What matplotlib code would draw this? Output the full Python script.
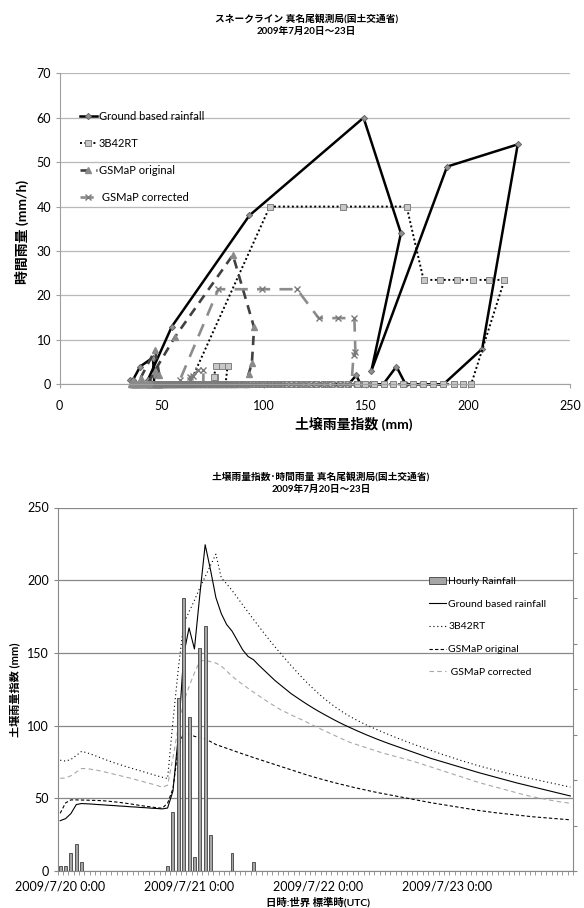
import numpy as np
import matplotlib
matplotlib.use('Agg')
import matplotlib.pyplot as plt

plt.rcParams['font.family'] = ['Lato', 'Noto Sans CJK JP']

# 1時間ごとの土壌雨量指数 (2009/7/20 0:00 から 96時間)
hours = np.arange(96)

swi_ground = [34.6, 36.0, 39.5, 45.7, 46.4, 46.2, 46.0, 45.7, 45.5, 45.2, 45.0, 44.7,
              44.5, 44.2, 44.0, 43.7, 43.5, 43.2, 43.0, 42.7, 43.3, 55.0, 93.0, 148.9,
              167.2, 152.7, 189.8, 224.4, 207.0, 188.0, 177.0, 169.5, 165.0, 158.5, 152.0, 147.5,
              145.3, 141.5, 138.0, 134.5, 131.0, 128.0, 125.0, 122.0, 119.5, 117.0, 114.6, 112.3,
              110.1, 108.0, 106.0, 104.0, 102.1, 100.3, 98.6, 96.9, 95.3, 93.7, 92.2, 90.7,
              89.3, 87.9, 86.6, 85.3, 84.0, 82.7, 81.4, 80.1, 78.8, 77.5, 76.4, 75.3,
              74.2, 73.1, 72.0, 70.9, 69.8, 68.7, 67.6, 66.6, 65.6, 64.6, 63.6, 62.6,
              61.6, 60.6, 59.7, 58.8, 57.9, 57.0, 56.1, 55.2, 54.3, 53.4, 52.5, 51.6]

swi_3b42rt = [76.2, 75.6, 76.7, 79.5, 82.3, 81.3, 80.0, 78.6, 77.2, 75.8, 74.5, 73.3,
              72.1, 71.0, 69.9, 68.8, 67.7, 66.6, 65.5, 64.5, 63.6, 103.0, 139.0, 170.0,
              178.3, 186.1, 194.7, 202.4, 210.2, 217.9, 201.6, 197.5, 193.0, 188.0, 183.0, 178.0,
              173.0, 168.2, 163.4, 158.7, 154.2, 149.8, 145.5, 141.3, 137.2, 133.2, 129.4, 125.8,
              122.4, 119.2, 116.2, 113.4, 110.8, 108.4, 106.2, 104.2, 102.3, 100.5, 98.8, 97.2,
              95.6, 94.1, 92.6, 91.1, 89.7, 88.3, 86.9, 85.6, 84.3, 83.0, 81.7, 80.4,
              79.2, 78.0, 76.8, 75.6, 74.5, 73.4, 72.3, 71.3, 70.3, 69.3, 68.4, 67.5,
              66.6, 65.7, 64.9, 64.1, 63.3, 62.5, 61.7, 60.9, 60.1, 59.3, 58.5, 57.7]

swi_gsmap_org = [39.7, 46.8, 48.9, 48.9, 48.8, 48.7, 48.6, 48.5, 48.3, 48.0, 47.6, 47.2,
                 46.7, 46.2, 45.6, 45.0, 44.5, 44.0, 43.5, 43.2, 46.6, 56.6, 84.9, 95.3,
                 94.2, 92.6, 91.8, 90.8, 89.0, 87.0, 85.7, 84.4, 83.1, 81.8, 80.5, 79.3,
                 78.0, 76.8, 75.6, 74.4, 73.2, 72.0, 70.8, 69.6, 68.4, 67.2, 66.0, 64.9,
                 63.8, 62.8, 61.8, 60.8, 59.9, 59.0, 58.1, 57.2, 56.4, 55.6, 54.8, 54.0,
                 53.3, 52.6, 51.9, 51.2, 50.5, 49.8, 49.1, 48.4, 47.7, 47.0, 46.4, 45.8,
                 45.2, 44.6, 44.0, 43.4, 42.8, 42.2, 41.6, 41.1, 40.6, 40.1, 39.7, 39.3,
                 38.9, 38.5, 38.1, 37.7, 37.3, 37.0, 36.7, 36.4, 36.1, 35.8, 35.5, 35.2]

swi_gsmap_cor = [63.7, 64.0, 65.5, 68.0, 70.5, 70.4, 69.8, 69.2, 68.4, 67.5, 66.6, 65.7,
                 64.8, 63.9, 62.9, 61.9, 60.9, 59.9, 58.9, 57.6, 59.0, 77.8, 99.1, 116.3,
                 126.9, 136.2, 144.4, 144.9, 144.0, 143.0, 141.0, 137.5, 134.0, 131.0, 128.3, 125.6,
                 123.0, 120.5, 118.0, 115.6, 113.3, 111.0, 109.2, 107.4, 105.7, 104.0, 102.2, 100.4,
                 98.6, 96.8, 95.1, 93.4, 91.7, 90.0, 88.4, 87.2, 86.0, 84.8, 83.6, 82.4,
                 81.2, 80.2, 79.2, 78.2, 77.2, 76.2, 75.2, 74.0, 72.8, 71.6, 70.4, 69.2,
                 68.0, 66.8, 65.6, 64.4, 63.2, 62.0, 60.8, 59.8, 58.8, 57.8, 56.8, 55.8,
                 54.8, 53.8, 52.8, 51.9, 51.0, 50.3, 49.6, 48.9, 48.2, 47.6, 47.1, 46.6]

# 時間雨量 (mm/h)：雨のあった時刻と値
rain_ground_h = [0, 1, 2, 3, 4, 20, 21, 22, 23, 24, 25, 26, 27, 28, 32, 36]
rain_ground_v = [1, 1, 4, 6, 2, 1, 13, 38, 60, 34, 3, 49, 54, 8, 4, 2]

rain_3b42rt_h = [0, 1, 2, 3, 4, 21, 22, 23, 24, 25, 26, 27, 28, 29]
rain_3b42rt_v = [1.7, 1.7, 4.1, 4.1, 4.1, 40, 40, 40, 23.5, 23.5, 23.5, 23.5, 23.5, 23.5]

rain_gsmap_org_h = [0, 1, 2, 20, 21, 22, 23, 24, 25]
rain_gsmap_org_v = [1.4, 7.7, 2.1, 3.0, 10.7, 29.1, 12.8, 4.7, 2.3]

rain_gsmap_cor_h = [0, 1, 2, 3, 4, 20, 21, 22, 23, 24, 25, 26, 27, 28]
rain_gsmap_cor_v = [1.0, 1.7, 1.9, 3.2, 3.2, 1.0, 21.4, 21.4, 21.4, 14.9, 14.9, 14.9, 7.3, 6.6]

date_ticks = [0, 24, 48, 72]
date_labels = ['2009/7/20 0:00', '2009/7/21 0:00', '2009/7/22 0:00', '2009/7/23 0:00']


def hourly(h, v):
    r = np.zeros(len(hours))
    r[h] = v
    return r


rain_ground = hourly(rain_ground_h, rain_ground_v)
rain_3b42rt = hourly(rain_3b42rt_h, rain_3b42rt_v)
rain_gsmap_org = hourly(rain_gsmap_org_h, rain_gsmap_org_v)
rain_gsmap_cor = hourly(rain_gsmap_cor_h, rain_gsmap_cor_v)

W, H = 584, 908
fig = plt.figure(figsize=(W / 100, H / 100), dpi=100)
grey = '#888888'

# ---- 上：土壌雨量指数 vs 時間雨量 ----
ax1 = fig.add_axes([59.5 / W, 1 - 384.3 / H, 510.5 / W, 311 / H])
ax1.plot(swi_ground, rain_ground, color='black', lw=1.8, marker='D', ms=3.2,
         mfc='#909090', mec='#606060', mew=0.6, clip_on=False, label='Ground based rainfall')
ax1.plot(swi_3b42rt, rain_3b42rt, color='black', lw=1.4, ls=(0, (1, 1.3)), marker='s', ms=4.5,
         mfc='#c8c8c8', mec='#808080', mew=0.7, clip_on=False, label='3B42RT')
ax1.plot(swi_gsmap_org, rain_gsmap_org, color='#404040', lw=1.9, ls=(0, (3.5, 2.5)), marker='^', ms=4.5,
         mfc='#8a8a8a', mec='#8a8a8a', clip_on=False, label='GSMaP original')
ax1.plot(swi_gsmap_cor, rain_gsmap_cor, color='#8c8c8c', lw=1.9, ls=(0, (5, 3.5)), marker='x', ms=4.5,
         mec='#7a7a7a', mew=1.0, clip_on=False, label=' GSMaP corrected')
ax1.set_xlim(0, 250)
ax1.set_ylim(0, 70)
ax1.set_xticks(range(0, 251, 50))
ax1.set_yticks(range(0, 71, 10))
ax1.grid(axis='y', color='#b8b8b8', lw=0.9)
ax1.set_axisbelow(True)
for s in ['top', 'right']:
    ax1.spines[s].set_visible(False)
for s in ['left', 'bottom']:
    ax1.spines[s].set_color('#a0a0a0')
ax1.tick_params(axis='y', length=3, color='#a0a0a0', labelsize=9, pad=3)
ax1.tick_params(axis='x', length=3, color='#a0a0a0', labelsize=9, pad=8)
ax1.legend(loc='upper left', bbox_to_anchor=(80 / W, 1 - 111 / H), bbox_transform=fig.transFigure,
           frameon=False, fontsize=8, handlelength=1.5, handletextpad=0.2, labelspacing=1.45,
           borderpad=0, borderaxespad=0, numpoints=1)

fig.text(306.7 / W, 1 - 18.3 / H, 'スネークライン 真名尾観測局(国土交通省)', ha='center', va='center',
         fontsize=7, fontweight='bold')
fig.text(306.7 / W, 1 - 31.2 / H, '2009年7月20日～23日', ha='center', va='center',
         fontsize=7, fontweight='bold')
fig.text(22 / W, 1 - 232 / H, '時間雨量 (mm/h)', rotation=90, ha='center', va='center',
         fontsize=10, fontweight='bold')
fig.text(354 / W, 1 - 424 / H, '土壌雨量指数 (mm)', ha='center', va='center',
         fontsize=10, fontweight='bold')

# ---- 下：土壌雨量指数と時間雨量の時系列 ----
ax2 = fig.add_axes([57.5 / W, 1 - 871 / H, 515.5 / W, 363.5 / H])
l1, = ax2.plot(hours, swi_ground, color='black', lw=0.8, label='Ground based rainfall')
l2, = ax2.plot(hours, swi_3b42rt, color='black', lw=0.8, ls=(0, (1, 2.5)), label='3B42RT')
l3, = ax2.plot(hours, swi_gsmap_org, color='black', lw=0.8, ls=(0, (3, 2)), label='GSMaP original')
l4, = ax2.plot(hours, swi_gsmap_cor, color='#a8a8a8', lw=0.8, ls=(0, (4, 3)), label=' GSMaP corrected')
ax2.set_xlim(-0.5, 95.5)
ax2.set_ylim(0, 250)
ax2.set_yticks(range(0, 251, 50))
ax2.set_xticks(date_ticks)
ax2.set_xticklabels(date_labels)
ax2.set_xticks(np.arange(-0.5, 96, 1), minor=True)
ax2.grid(axis='y', color=grey, lw=0.9)
ax2.set_axisbelow(True)
for s in ['top', 'right']:
    ax2.spines[s].set_visible(False)
for s in ['left', 'bottom']:
    ax2.spines[s].set_color(grey)
ax2.tick_params(axis='y', length=3, color=grey, labelsize=9, pad=3)
ax2.tick_params(axis='x', which='major', length=0, labelsize=9, pad=7)
ax2.tick_params(axis='x', which='minor', length=3, color=grey, width=0.6)

ax3 = ax2.twinx()
b1 = ax3.bar(hours, rain_ground, width=0.55, color='#a6a6a6', edgecolor='#404040', lw=0.6,
             label='Hourly Rainfall')
ax3.set_ylim(0, 80)
ax3.set_yticks(range(0, 81, 10))
ax3.set_yticklabels([])
for s in ['top', 'left', 'bottom']:
    ax3.spines[s].set_visible(False)
ax3.spines['right'].set_color(grey)
ax3.tick_params(axis='y', length=3, color=grey)
ax3.legend([b1, l1, l2, l3, l4],
           ['Hourly Rainfall', 'Ground based rainfall', '3B42RT', 'GSMaP original', ' GSMaP corrected'],
           loc='upper left', bbox_to_anchor=(429.3 / W, 1 - 576.5 / H), bbox_transform=fig.transFigure,
           frameon=False, fontsize=7.5, handlelength=1.6, handletextpad=0.2, labelspacing=1.3,
           borderpad=0, borderaxespad=0)

fig.text(321 / W, 1 - 476.7 / H, '土壌雨量指数･時間雨量 真名尾観測局(国土交通省)', ha='center', va='center',
         fontsize=7, fontweight='bold')
fig.text(321 / W, 1 - 489.3 / H, '2009年7月20日～23日', ha='center', va='center',
         fontsize=7, fontweight='bold')
fig.text(15 / W, 1 - 690 / H, '土壌雨量指数 (mm)', rotation=90, ha='center', va='center',
         fontsize=8, fontweight='bold')
fig.text(318 / W, 1 - 902 / H, '日時:世界 標準時(UTC)', ha='center', va='center',
         fontsize=7.5, fontweight='bold')

fig.savefig('out.png', dpi=100)
